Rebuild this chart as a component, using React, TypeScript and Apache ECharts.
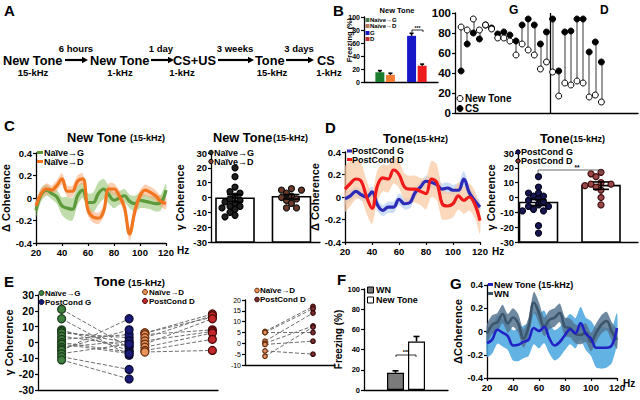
import React, { useEffect, useRef } from 'react';
import * as echarts from 'echarts';

const FONT = '"Liberation Sans", Arial, Helvetica, sans-serif';

// ---------- Panel B : freezing bars ----------
const bBarCategories = ['', 'Naïve→G', 'Naïve→D', '', 'G', 'D', ''];
const bBarValues = [null, 15, 11, null, 71, 25, null];
const bBarSem = [null, 2.5, 2.5, null, 4, 2.5, null];
const bBarColors = ['#000', '#1b7d2d', '#f47c33', '#000', '#1717c8', '#ee1d1d', '#000'];

// ---------- Panel B : paired freezing ----------
const bPairNewTone = [86, 83, 94, 83, 88, 84, 75, 75, 72, 58, 69, 63, 58, 44, 51, 41, 17, 30, 28, 32, 30, 16, 18, 11];
const bPairCS = [42, 69, 80, 74, 88, 85, 79, 81, 78, 72, 88, 94, 88, 69, 81, 94, 42, 81, 82, 94, 94, 61, 71, 51];

// ---------- Frequency axis ----------
const hz = [20, 24, 28, 32, 36, 40, 44, 48, 52, 56, 60, 64, 68, 72, 76, 80, 84, 88, 92, 96, 100, 104, 108, 112, 116, 120];

// ---------- Panel C ----------
const cNaiveG = [-0.11, 0.03, 0.07, 0.04, 0.01, -0.07, -0.09, -0.1, 0.02, 0.07, -0.04, -0.04, 0.04, 0.08, 0.03, -0.02, 0.0, 0.02, -0.03, -0.05, -0.02, -0.03, -0.04, -0.05, -0.04, 0.07];
const cNaiveGSem = [0.06, 0.06, 0.05, 0.05, 0.06, 0.08, 0.1, 0.1, 0.08, 0.07, 0.08, 0.09, 0.1, 0.09, 0.08, 0.07, 0.06, 0.06, 0.06, 0.07, 0.07, 0.06, 0.06, 0.07, 0.07, 0.06];
const cNaiveD = [-0.07, 0.04, 0.08, 0.07, 0.11, 0.17, 0.06, 0.06, 0.15, 0.17, -0.11, -0.17, -0.18, -0.12, 0.08, 0.08, 0.02, -0.08, -0.32, -0.12, 0.02, 0.07, 0.05, 0.02, -0.03, -0.05];
const cNaiveDSem = [0.05, 0.05, 0.05, 0.04, 0.05, 0.05, 0.05, 0.05, 0.05, 0.05, 0.05, 0.05, 0.05, 0.05, 0.05, 0.05, 0.05, 0.05, 0.06, 0.07, 0.05, 0.05, 0.05, 0.05, 0.05, 0.05];
const cBarMeans = [-0.5, 0.5];
const cBarSem = [2.5, 1.5];
const cDotsG = [20, 14, 7, 4, 3, 1, -1, -2, -3, -4, -6, -6, -7, -8, -10, -12, -13];
const cDotsD = [6, 5, 5, 3, 1, 0, -1, -2, -4, -7, -7];

// ---------- Panel D ----------
const dPostG = [-0.015, 0.01, 0.05, 0.02, 0.0, 0.045, -0.07, -0.12, -0.09, -0.09, -0.02, -0.06, -0.05, 0.04, 0.09, 0.14, 0.13, 0.11, 0.07, 0.08, 0.06, 0.06, 0.16, 0.04, -0.03, -0.09];
const dPostGSem = [0.05, 0.05, 0.05, 0.05, 0.05, 0.05, 0.05, 0.05, 0.05, 0.05, 0.05, 0.05, 0.05, 0.05, 0.05, 0.05, 0.05, 0.05, 0.05, 0.05, 0.05, 0.06, 0.07, 0.06, 0.05, 0.05];
const dPostD = [0.07, 0.12, 0.16, 0.14, 0.0, -0.1, 0.1, 0.17, 0.16, 0.24, 0.2, 0.09, 0.07, 0.07, 0.05, 0.03, 0.16, 0.13, -0.06, -0.08, -0.06, 0.01, -0.03, 0.0, -0.06, -0.21];
const dPostDSem = [0.2, 0.2, 0.18, 0.16, 0.15, 0.14, 0.14, 0.12, 0.12, 0.12, 0.12, 0.12, 0.12, 0.12, 0.12, 0.14, 0.16, 0.16, 0.14, 0.12, 0.12, 0.12, 0.12, 0.12, 0.12, 0.12];
const dBarMeans = [-3.4, 8];
const dBarSem = [2, 2.5];
const dDotsG = [14, 7, 3, 3, 1, 1, -1, -2, -3, -5, -6, -6, -8, -9, -9, -19, -24];
const dDotsD = [17, 16, 14, 10, 9, 9, 8, 7, 5, 0, -5];

// ---------- Panel E ----------
const eNaiveG = [21, 15, 8, 7, 6, 4, 2, 0, -1, -3, -4, -5, -7, -9, -11];
const ePostG = [-3, -8, -5, 0, 3, -2, 5, -6, -7, 1, 8, 15, -1, -17, -23];
const eNaiveD = [6, 6, 5, 3, 1, -1, -3, -5, -6];
const ePostD = [18, 16, 8, 17, 7, 15, 6, 2, -5];
const eInsetNaiveD = [5.5, 5, 5, 1, 0, -0.5, -3.5, -6];
const eInsetPostD = [17, 16, 5, 14, 8, 1, -5, 7.5];

// ---------- Panel F ----------
const fCategories = ['', 'WN', 'New Tone', ''];
const fValues = [null, 17, 48, null];
const fSem = [null, 2, 5, null];

// ---------- Panel G ----------
const gWN = [-0.02, 0.06, 0.08, 0.15, 0.07, 0.12, 0.07, -0.06, 0.04, 0.25, 0.16, 0.04, 0.1, 0.12, 0.16, 0.04, 0.03, -0.02, -0.03, -0.01, -0.09, -0.01, 0.06, 0.09, 0.0, -0.07];
const gWNSem = [0.08, 0.08, 0.08, 0.08, 0.08, 0.08, 0.08, 0.08, 0.08, 0.09, 0.09, 0.08, 0.08, 0.08, 0.08, 0.08, 0.08, 0.08, 0.08, 0.08, 0.08, 0.08, 0.08, 0.08, 0.08, 0.08];
const gNewTone = [-0.1, -0.07, 0.015, -0.01, -0.04, -0.12, -0.115, -0.09, -0.07, 0.03, 0.005, 0.04, -0.06, -0.12, -0.09, -0.03, 0.02, -0.015, 0.07, -0.02, -0.06, -0.14, -0.14, -0.14, -0.12, 0.03];
const gNewToneSem = [0.12, 0.12, 0.12, 0.12, 0.12, 0.13, 0.14, 0.14, 0.14, 0.14, 0.15, 0.14, 0.13, 0.13, 0.13, 0.13, 0.13, 0.13, 0.14, 0.14, 0.15, 0.17, 0.18, 0.17, 0.15, 0.13];

// layout constants (column positions on hidden value axes)
const eCols = [1.05, 4.05, 4.75, 7.75];
const eInsetCols = [1, 3.4];
const bDividerAt = 15.6;

// ---------- helpers ----------
const txt = (text: string, x: number, y: number, size: number, opt: any = {}) => ({
  type: 'text', x, y, silent: true, rotation: opt.rot || 0, z: 100,
  style: {
    text, fill: opt.color || '#000', fontSize: size, fontWeight: opt.weight || 'bold', fontFamily: FONT,
    textAlign: opt.align || 'left', textVerticalAlign: 'middle', align: opt.align || 'left', verticalAlign: 'middle',
  },
});
const seg = (x1: number, y1: number, x2: number, y2: number, w = 1, color = '#000') => ({
  type: 'line', silent: true, z: 100, shape: { x1, y1, x2, y2 }, style: { stroke: color, lineWidth: w },
});
const dot = (cx: number, cy: number, r: number, fill: string, stroke = '#000') => ({
  type: 'circle', silent: true, z: 100, shape: { cx, cy, r }, style: { fill, stroke, lineWidth: 1 },
});
const box = (x: number, y: number, w: number, h: number, fill: string, stroke = 'none') => ({
  type: 'rect', silent: true, z: 100, shape: { x, y, width: w, height: h }, style: { fill, stroke, lineWidth: 1 },
});
const arrow = (x1: number, x2: number, y: number) => [
  seg(x1, y, x2 - 5, y, 2.2),
  { type: 'polygon', silent: true, z: 100, shape: { points: [[x2 - 6, y - 3.2], [x2, y], [x2 - 6, y + 3.2]] }, style: { fill: '#000' } },
];

function axisBase(fontSize: number, weight = 'bold') {
  return {
    axisLine: { show: true, onZero: false, lineStyle: { color: '#000', width: 1.3 } },
    axisTick: { show: true, length: 3, lineStyle: { color: '#000', width: 1.2 } },
    axisLabel: { color: '#000', fontWeight: weight, fontSize, fontFamily: FONT, margin: 4 },
    splitLine: { show: false },
  };
}
const hiddenX = (gridIndex: number, min: number, max: number) => ({
  type: 'value', gridIndex, min, max,
  axisLine: { show: true, onZero: false, lineStyle: { color: '#000', width: 1.3 } },
  axisTick: { show: false }, axisLabel: { show: false }, splitLine: { show: false },
});
const hzAxis = (gridIndex: number) => ({ type: 'value', gridIndex, min: 20, max: 120, interval: 20, ...axisBase(9.5) });
const yName = (name: string, gap: number, size = 11) => ({
  name, nameLocation: 'middle', nameGap: gap,
  nameTextStyle: { color: '#000', fontWeight: 'bold', fontSize: size, fontFamily: FONT },
});

// shaded SEM band drawn as one polygon through the axis scales
function band(ax: number, mean: number[], sem: number[], color: string) {
  const data = mean.map((m, i) => [hz[i], +(m - sem[i]).toFixed(4), +(m + sem[i]).toFixed(4)]);
  return {
    type: 'custom', xAxisIndex: ax, yAxisIndex: ax, data, silent: true, z: 1,
    renderItem: (params: any, api: any) => {
      if (params.dataIndex !== 0) return null;
      const up = data.map((d) => api.coord([d[0], d[2]]));
      const lo = data.map((d) => api.coord([d[0], d[1]])).reverse();
      return { type: 'polygon', shape: { points: up.concat(lo), smooth: 0.25 }, style: { fill: color } };
    },
  };
}
const meanLine = (ax: number, mean: number[], color: string, width = 3.2) => ({
  type: 'line', xAxisIndex: ax, yAxisIndex: ax, data: mean.map((m, i) => [hz[i], m]), smooth: 0.4, symbol: 'none', silent: true, z: 3,
  lineStyle: { color, width },
});

function errorBars(ax: number, data: number[][], capW: number, both: boolean) {
  return {
    type: 'custom', xAxisIndex: ax, yAxisIndex: ax, data, z: 9, silent: true,
    renderItem: (_p: any, api: any) => {
      const x = api.value(0), m = api.value(1), s = api.value(2);
      const top = api.coord([x, m + s]);
      const bot = api.coord([x, both ? m - s : m]);
      const st = { stroke: '#000', lineWidth: 1.6 };
      const kids: any[] = [
        { type: 'line', shape: { x1: top[0], y1: top[1], x2: bot[0], y2: bot[1] }, style: st },
        { type: 'line', shape: { x1: top[0] - capW / 2, y1: top[1], x2: top[0] + capW / 2, y2: top[1] }, style: st },
      ];
      if (both) kids.push({ type: 'line', shape: { x1: bot[0] - capW / 2, y1: bot[1], x2: bot[0] + capW / 2, y2: bot[1] }, style: st });
      return { type: 'group', children: kids };
    },
  };
}

// simple deterministic bee-swarm (pixel offsets)
function swarm(values: number[], pxPerUnit: number, size: number) {
  const placed: { x: number; y: number }[] = [];
  const cand = [0, -5, 5, -10, 10, -3, 3, -8, 8, -13, 13, -16, 16];
  return values.map((v) => {
    const y = v * pxPerUnit;
    for (const dx of cand) {
      if (placed.every((p) => Math.hypot(p.x - dx, p.y - y) >= size)) {
        placed.push({ x: dx, y });
        return dx;
      }
    }
    placed.push({ x: 0, y });
    return 0;
  });
}

function dotsSeries(ax: number, group: number, values: number[], fill: string, stroke: string) {
  const offs = swarm(values, 89 / 60, 5.6);
  return {
    type: 'scatter', xAxisIndex: ax, yAxisIndex: ax, z: 8, silent: true, symbol: 'circle', symbolSize: 6,
    itemStyle: { color: fill, borderColor: stroke, borderWidth: 1.2, opacity: 1 },
    data: values.map((v, i) => ({ value: [group, v], symbolOffset: [offs[i], 0] })),
  };
}
// open bars rising from the axis minimum (-30) to the mean
function coherenceBars(ax: number, means: number[]) {
  return {
    type: 'custom', xAxisIndex: ax, yAxisIndex: ax, z: 2, silent: true,
    data: means.map((m, i) => [i + 1, m]),
    renderItem: (_p: any, api: any) => {
      const x = api.value(0), m = api.value(1);
      const base = api.coord([x, -30]);
      const top = api.coord([x, m]);
      return { type: 'rect', shape: { x: base[0] - 19, y: top[1], width: 38, height: base[1] - top[1] }, style: { fill: '#fff', stroke: '#000', lineWidth: 1.6 } };
    },
  };
}
function column(ax: number, x: number, values: number[], fill: string, stroke: string, size: number) {
  return {
    type: 'scatter', xAxisIndex: ax, yAxisIndex: ax, z: 8, silent: true, symbol: 'circle', symbolSize: size,
    itemStyle: { color: fill, borderColor: stroke, borderWidth: 1.2, opacity: 1 },
    data: values.map((v) => [x, v]),
  };
}
function pairLines(ax: number, x1: number, x2: number, a: number[], b: number[]) {
  return {
    type: 'lines', coordinateSystem: 'cartesian2d', xAxisIndex: ax, yAxisIndex: ax, z: 4, silent: true,
    lineStyle: { color: '#6e6e6e', width: 1, type: 'dashed', opacity: 1 },
    data: a.map((v, i) => ({ coords: [[x1, v], [x2, b[i]]] })),
  };
}

function buildOption(): any {
  const grid = [
    { left: 364, top: 17, width: 74, height: 65 }, // 0 B bars
    { left: 455, top: 13, width: 183, height: 100 }, // 1 B pairs
    { left: 36, top: 153, width: 130, height: 90 }, // 2 C lines
    { left: 211, top: 153, width: 109, height: 89 }, // 3 C dots
    { left: 345, top: 152, width: 135, height: 90 }, // 4 D lines
    { left: 518, top: 153, width: 120, height: 89 }, // 5 D dots
    { left: 38, top: 295, width: 180, height: 95 }, // 6 E
    { left: 245, top: 300, width: 90, height: 65 }, // 7 E inset
    { left: 364, top: 289, width: 84, height: 101 }, // 8 F
    { left: 487, top: 285, width: 130, height: 93 }, // 9 G
  ].map((g) => ({ ...g, containLabel: false, outerBoundsMode: 'none' }));

  const xAxis = [
    { type: 'category', gridIndex: 0, data: bBarCategories, ...axisBase(7), axisTick: { show: false }, axisLabel: { show: false } },
    hiddenX(1, 0, 30),
    hzAxis(2),
    hiddenX(3, 0.575, 2.505),
    hzAxis(4),
    hiddenX(5, 0.672, 2.592),
    hiddenX(6, 0, 8),
    hiddenX(7, 0, 4.5),
    { type: 'category', gridIndex: 8, data: fCategories, ...axisBase(7), axisTick: { show: false }, axisLabel: { show: false } },
    hzAxis(9),
  ];
  const yAxis = [
    { type: 'value', gridIndex: 0, min: 0, max: 100, interval: 20, ...axisBase(7) },
    { type: 'value', gridIndex: 1, min: 0, max: 100, interval: 20, ...axisBase(11.5) },
    { type: 'value', gridIndex: 2, min: -0.4, max: 0.4, interval: 0.2, ...axisBase(9.5), ...yName('Δ Coherence', 24) },
    { type: 'value', gridIndex: 3, min: -30, max: 30, interval: 10, ...axisBase(9.5), ...yName('γ Coherence', 26) },
    { type: 'value', gridIndex: 4, min: -0.4, max: 0.4, interval: 0.2, ...axisBase(9.5), ...yName('Δ Coherence', 17) },
    { type: 'value', gridIndex: 5, min: -30, max: 30, interval: 10, ...axisBase(9.5), ...yName('γ Coherence', 22) },
    { type: 'value', gridIndex: 6, min: -30, max: 30, interval: 10, ...axisBase(10.5), ...yName('γ Coherence', 21) },
    { type: 'value', gridIndex: 7, min: -10, max: 20, interval: 5, ...axisBase(7, 'normal') },
    { type: 'value', gridIndex: 8, min: 0, max: 100, interval: 20, ...axisBase(7.5), ...yName('Freezing (%)', 13, 10) },
    { type: 'value', gridIndex: 9, min: -0.4, max: 0.4, interval: 0.2, ...axisBase(9), ...yName('ΔCoherence', 20) },
  ];

  const series: any[] = [];
  // B bars
  series.push({
    type: 'bar', xAxisIndex: 0, yAxisIndex: 0, barWidth: 9, silent: true,
    data: bBarValues.map((v, i) => (v == null ? null : { value: v, itemStyle: { color: bBarColors[i] } })),
  });
  series.push(errorBars(0, bBarValues.map((v, i) => (v == null ? null : [i, v, bBarSem[i] as number])).filter(Boolean) as number[][], 4, false));

  // B pairs
  series.push({
    type: 'lines', coordinateSystem: 'cartesian2d', xAxisIndex: 1, yAxisIndex: 1, z: 3, silent: true,
    lineStyle: { color: '#7a7a7a', width: 1.5, opacity: 1 },
    data: bPairNewTone.map((v, i) => ({ coords: [[i + 1, v], [i + 1, bPairCS[i]]] })),
  });
  series.push({
    type: 'scatter', xAxisIndex: 1, yAxisIndex: 1, z: 5, silent: true, symbolSize: 6,
    itemStyle: { color: '#000', borderColor: '#000', borderWidth: 1, opacity: 1 },
    data: bPairCS.map((v, i) => [i + 1, v]),
  });
  series.push({
    type: 'scatter', xAxisIndex: 1, yAxisIndex: 1, z: 6, silent: true, symbolSize: 6,
    itemStyle: { color: '#fff', borderColor: '#000', borderWidth: 1, opacity: 1 },
    data: bPairNewTone.map((v, i) => [i + 1, v]),
    markLine: {
      silent: true, symbol: ['none', 'none'], label: { show: false },
      lineStyle: { color: '#000', width: 1.3, type: 'solid' }, data: [{ xAxis: bDividerAt }],
    },
  });

  // C lines
  series.push(band(2, cNaiveG, cNaiveGSem, 'rgba(140,192,100,0.55)'));
  series.push(band(2, cNaiveD, cNaiveDSem, 'rgba(250,165,115,0.55)'));
  series.push(meanLine(2, cNaiveG, '#5c9a3c'));
  series.push(meanLine(2, cNaiveD, '#f2751f'));
  // C dots
  series.push(coherenceBars(3, cBarMeans));
  series.push(dotsSeries(3, 1, cDotsG, '#1e1e1e', '#000'));
  series.push(dotsSeries(3, 2, cDotsD, '#6e3b2b', '#111'));
  series.push(errorBars(3, cBarMeans.map((m, i) => [i + 1, m, cBarSem[i]]), 16, true));

  // D lines
  series.push(band(4, dPostG, dPostGSem, 'rgba(170,200,240,0.6)'));
  series.push(band(4, dPostD, dPostDSem, 'rgba(250,200,160,0.7)'));
  series.push(meanLine(4, dPostG, '#2b2bb8'));
  series.push(meanLine(4, dPostD, '#f01a1a'));
  // D dots
  series.push(coherenceBars(5, dBarMeans));
  series.push(dotsSeries(5, 1, dDotsG, '#161650', '#05051e'));
  series.push(dotsSeries(5, 2, dDotsD, '#9c4848', '#3c0c0c'));
  series.push(errorBars(5, dBarMeans.map((m, i) => [i + 1, m, dBarSem[i]]), 16, true));

  // E
  series.push(pairLines(6, eCols[0], eCols[1], eNaiveG, ePostG));
  series.push(pairLines(6, eCols[2], eCols[3], eNaiveD, ePostD));
  series.push(column(6, eCols[0], eNaiveG, '#3f7f3f', '#1c3c1c', 8));
  series.push(column(6, eCols[1], ePostG, '#1a1a78', '#0a0a30', 8));
  series.push(column(6, eCols[2], eNaiveD, '#e8935a', '#6a3010', 8));
  series.push(column(6, eCols[3], ePostD, '#c0282a', '#4a0808', 8));
  // E inset
  series.push(pairLines(7, eInsetCols[0], eInsetCols[1], eInsetNaiveD, eInsetPostD));
  series.push(column(7, eInsetCols[0], eInsetNaiveD, '#e09468', '#6a3010', 4.5));
  series.push(column(7, eInsetCols[1], eInsetPostD, '#7a3030', '#3a0a0a', 4.5));

  // F
  series.push({
    type: 'bar', xAxisIndex: 8, yAxisIndex: 8, barWidth: 17, silent: true,
    data: fValues.map((v, i) => (v == null ? null : { value: v, itemStyle: { color: i === 1 ? '#7a7a7a' : '#fff', borderColor: '#000', borderWidth: 1.2 } })),
  });
  series.push(errorBars(8, fValues.map((v, i) => (v == null ? null : [i, v, fSem[i] as number])).filter(Boolean) as number[][], 6, false));

  // G
  series.push(band(9, gNewTone, gNewToneSem, 'rgba(70,165,222,0.85)'));
  series.push(band(9, gWN, gWNSem, 'rgba(86,116,144,0.85)'));
  series.push(meanLine(9, gWN, '#3b566c', 2.6));
  series.push(meanLine(9, gNewTone, '#2222c4', 2.6));

  const g: any[] = [];
  // panel letters
  [['A', 4, 10], ['B', 333, 10], ['C', 4, 125], ['D', 325, 127], ['E', 4, 281], ['F', 337, 279], ['G', 450, 283]].forEach(
    ([l, x, y]) => g.push(txt(l as string, x as number, y as number, 15))
  );
  // A timeline
  g.push(txt('New Tone', 3, 60, 12.8), txt('15-kHz', 33, 72, 9.5, { align: 'center' }));
  g.push(...arrow(65, 88, 60), txt('6 hours', 76, 48, 9.5, { align: 'center' }));
  g.push(txt('New Tone', 90, 60, 12.8), txt('1-kHz', 120, 72, 9.5, { align: 'center' }));
  g.push(...arrow(151, 174, 60), txt('1 day', 161, 48, 9.5, { align: 'center' }));
  g.push(txt('CS+US', 173, 60, 12.8), txt('1-kHz', 182, 72, 9.5, { align: 'center' }));
  g.push(...arrow(218, 254, 60), txt('3 weeks', 235, 48, 9.5, { align: 'center' }));
  g.push(txt('Tone', 255, 60, 12.8), txt('15-kHz', 272, 72, 9.5, { align: 'center' }));
  g.push(...arrow(286, 314, 60), txt('3 days', 299, 48, 9.5, { align: 'center' }));
  g.push(txt('CS', 317, 60, 12.8), txt('1-kHz', 329, 72, 9.5, { align: 'center' }));

  // B bar chart decorations
  g.push(txt('New Tone', 397, 10, 7.5, { align: 'center' }));
  g.push(txt('Freezing (%)', 349, 40, 7.5, { align: 'center', rot: Math.PI / 2 }));
  [['Naïve→G', '#4d7a55', 20], ['Naïve→D', '#b27a66', 26], ['G', '#1717c8', 33], ['D', '#c03030', 39]].forEach(([t, c, y]) => {
    g.push(box(365.5, (y as number) - 2, 4, 4, c as string), txt(t as string, 370, y as number, 6));
  });
  g.push(seg(412, 30, 423, 30, 0.8), seg(412, 30, 412, 32, 0.8), seg(423, 30, 423, 32, 0.8), txt('***', 417.5, 27.5, 5, { align: 'center' }));

  // B pairs decorations
  g.push(txt('G', 509, 10, 12), txt('D', 600, 10, 12));
  g.push(dot(460, 98.5, 3, '#fff'), txt('New Tone', 465, 98.5, 10));
  g.push(dot(460, 108.5, 3, '#000'), txt('CS', 465, 108.5, 10));

  // C left
  g.push(txt('New Tone', 67, 137, 12.8), txt('(15-kHz)', 130, 138, 9));
  g.push(box(37, 151, 6, 3, '#5c9a3c'), txt('Naïve→G', 44, 152.5, 9));
  g.push(box(37, 160, 6, 3, '#f2751f'), txt('Naïve→D', 44, 161.5, 9));
  g.push(txt('Hz', 177, 250, 10));
  // C right
  g.push(txt('New Tone', 213, 137, 12.8), txt('(15-kHz)', 273, 138, 9));
  g.push(dot(211, 152.5, 2.2, '#2a3a2a'), txt('Naïve→G', 214, 152.5, 9));
  g.push(dot(211, 161.5, 2.2, '#8a4a3a'), txt('Naïve→D', 214, 161.5, 9));

  // D left
  g.push(txt('Tone', 383, 138, 12.8), txt('(15-kHz)', 413, 139, 9));
  g.push(box(347, 149.5, 5, 3, '#2b2bb8'), txt('PostCond G', 352, 151, 9));
  g.push(box(347, 158, 5, 3, '#f01a1a'), txt('PostCond D', 352, 160, 9));
  g.push(txt('Hz', 492, 251, 10));
  // D right
  g.push(txt('Tone', 540, 138, 12.8), txt('(15-kHz)', 570, 139, 9));
  g.push(dot(518, 152, 2.2, '#1a1a70'), txt('PostCond G', 521, 152, 9));
  g.push(dot(518, 161, 2.2, '#8c3a3a'), txt('PostCond D', 521, 161, 9));
  g.push(seg(538, 170, 601, 170, 0.8, '#444'), seg(538, 170, 538, 173, 0.8, '#444'), seg(601, 170, 601, 173, 0.8, '#444'));
  g.push(txt('**', 577, 167.5, 6.5, { align: 'center' }));

  // E
  g.push(txt('Tone', 94, 281, 13.5), txt('(15-kHz)', 128, 282, 9.5));
  g.push(dot(41.5, 293, 2.5, '#3f7f3f', '#1c3c1c'), txt('Naïve→G', 45, 293, 8));
  g.push(dot(41.5, 302, 2.5, '#1a1a78', '#0a0a30'), txt('PostCond G', 45, 302, 8));
  g.push(dot(145, 292, 2.5, '#e8935a', '#6a3010'), txt('Naïve→D', 149, 292, 8));
  g.push(dot(145, 301, 2.5, '#c0282a', '#4a0808'), txt('PostCond D', 149, 301, 8));
  g.push(dot(257, 290.5, 2.3, '#e8935a', '#6a3010'), txt('Naïve→D', 260, 290.5, 8));
  g.push(dot(257, 299.5, 2.3, '#7a3030', '#3a0a0a'), txt('PostCond D', 260, 299.5, 8));

  // F
  g.push(box(367.5, 287, 6, 6, '#7a7a7a', '#000'), txt('WN', 376, 290, 9));
  g.push(box(367.5, 297, 6, 6, '#fff', '#000'), txt('New Tone', 376, 300, 9));
  g.push(seg(396, 355, 416, 355, 0.8), seg(396, 355, 396, 357, 0.8), seg(416, 355, 416, 357, 0.8), txt('***', 406, 352, 5.5, { align: 'center' }));

  // G
  g.push(box(488, 283, 5, 3, '#2222c4'), txt('New Tone (15-kHz)', 494, 284.5, 9));
  g.push(box(488, 292, 5, 3, '#3b566c'), txt('WN', 494, 293.5, 9));
  g.push(txt('Hz', 623, 383, 10));

  return {
    animation: false,
    backgroundColor: '#fff',
    textStyle: { fontFamily: FONT },
    grid, xAxis, yAxis, series,
    graphic: { elements: g },
  };
}

export default function App() {
  const ref = useRef<HTMLDivElement>(null);
  useEffect(() => {
    const chart = echarts.init(ref.current as HTMLDivElement, null, { renderer: 'svg' });
    chart.setOption(buildOption());
    return () => chart.dispose();
  }, []);
  return <div ref={ref} style={{ position: 'absolute', left: 0, top: 0, width: 640, height: 400 }} />;
}
